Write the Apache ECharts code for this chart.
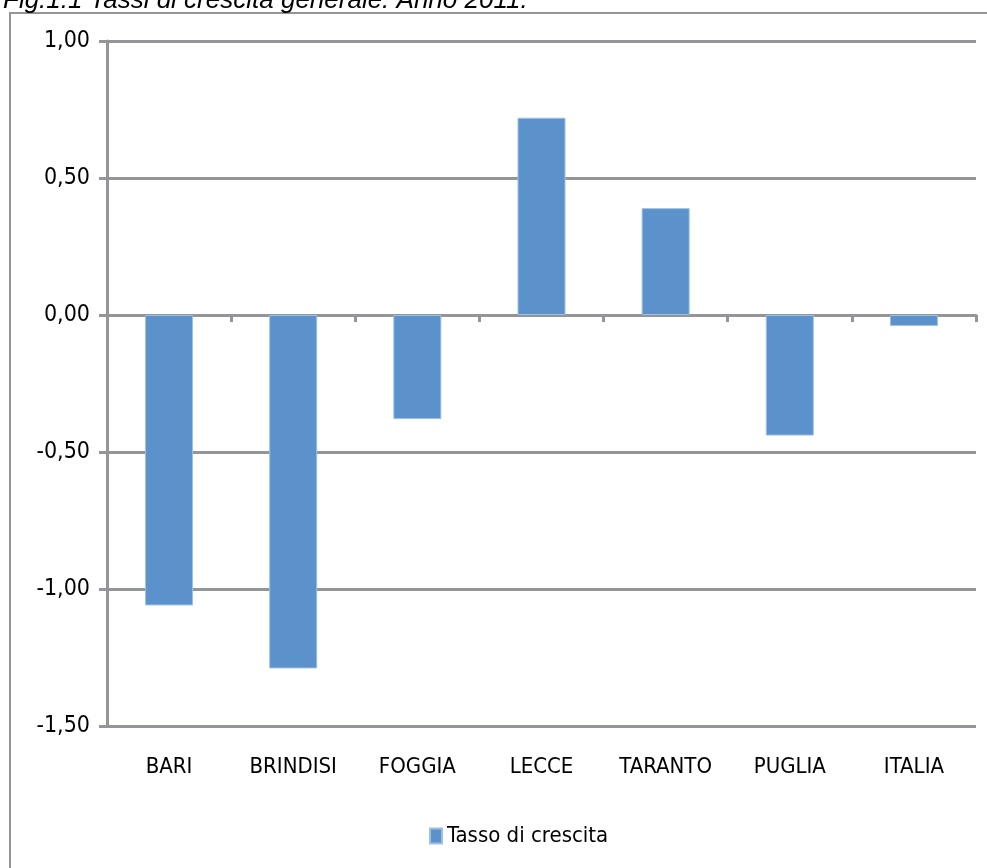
<!DOCTYPE html>
<html>
<head>
<meta charset="utf-8">
<script src="https://cdn.jsdelivr.net/npm/echarts@6/dist/echarts.min.js"></script>
<style>
html,body{margin:0;padding:0;background:#fff;}
#chart{width:987px;height:868px;}
</style>
</head>
<body>
<div id="chart"></div>
<script>
var categories = ['BARI', 'BRINDISI', 'FOGGIA', 'LECCE', 'TARANTO', 'PUGLIA', 'ITALIA'];
var tasso = [-1.06, -1.29, -0.38, 0.72, 0.39, -0.44, -0.04];
var seriesName = 'Tasso di crescita';
var titleText = 'Fig.1.1 Tassi di crescita generale. Anno 2011.';

var FONT = '"Liberation Sans Narrow", "DejaVu Sans Condensed", "Liberation Sans", sans-serif';
var GRAY = '#939598';

var chart = echarts.init(document.getElementById('chart'), null, {renderer: 'canvas'});
chart.setOption({
  animation: false,
  backgroundColor: '#fff',
  title: {
    text: titleText,
    left: -2,
    top: -17,
    textStyle: {fontFamily: 'Liberation Sans, Arial, sans-serif', fontStyle: 'italic', fontWeight: 'normal', fontSize: 26, color: '#000'}
  },
  graphic: [{
    type: 'rect',
    shape: {x: 10, y: 13, width: 1000, height: 900},
    style: {fill: 'none', stroke: GRAY, lineWidth: 2},
    silent: true,
    z: -1
  }],
  grid: {left: 107, right: 11, top: 41, bottom: 142, containLabel: false},
  legend: {
    data: [seriesName],
    left: 424,
    top: 820,
    icon: 'rect',
    itemWidth: 12,
    itemHeight: 15,
    itemGap: 6,
    textStyle: {fontFamily: FONT, fontSize: 22, color: '#000'}
  },
  xAxis: [{
    type: 'category',
    data: categories,
    axisLine: {onZero: true, lineStyle: {color: GRAY, width: 3}},
    axisTick: {show: true, length: 7, lineStyle: {color: GRAY, width: 3}},
    axisLabel: {show: false},
    splitLine: {show: false}
  }, {
    type: 'category',
    data: categories,
    position: 'bottom',
    axisLine: {show: false},
    axisTick: {show: false},
    axisLabel: {show: true, interval: 0, margin: 30, fontFamily: FONT, fontSize: 22, color: '#000'},
    splitLine: {show: false}
  }],
  yAxis: {
    type: 'value',
    min: -1.5,
    max: 1.0,
    interval: 0.5,
    axisLine: {show: true, lineStyle: {color: GRAY, width: 3}},
    axisTick: {show: true, length: 8, lineStyle: {color: GRAY, width: 3}},
    splitLine: {show: true, lineStyle: {color: GRAY, width: 3}},
    axisLabel: {
      margin: 17,
      fontFamily: FONT,
      fontSize: 23,
      color: '#000',
      formatter: function (v) { return v.toFixed(2).replace('.', ','); }
    }
  },
  series: [{
    name: seriesName,
    type: 'bar',
    xAxisIndex: 0,
    data: tasso,
    barWidth: 48,
    itemStyle: {color: '#5B92CC', borderColor: '#9DBFE3', borderWidth: 1}
  }]
});
</script>
</body>
</html>
